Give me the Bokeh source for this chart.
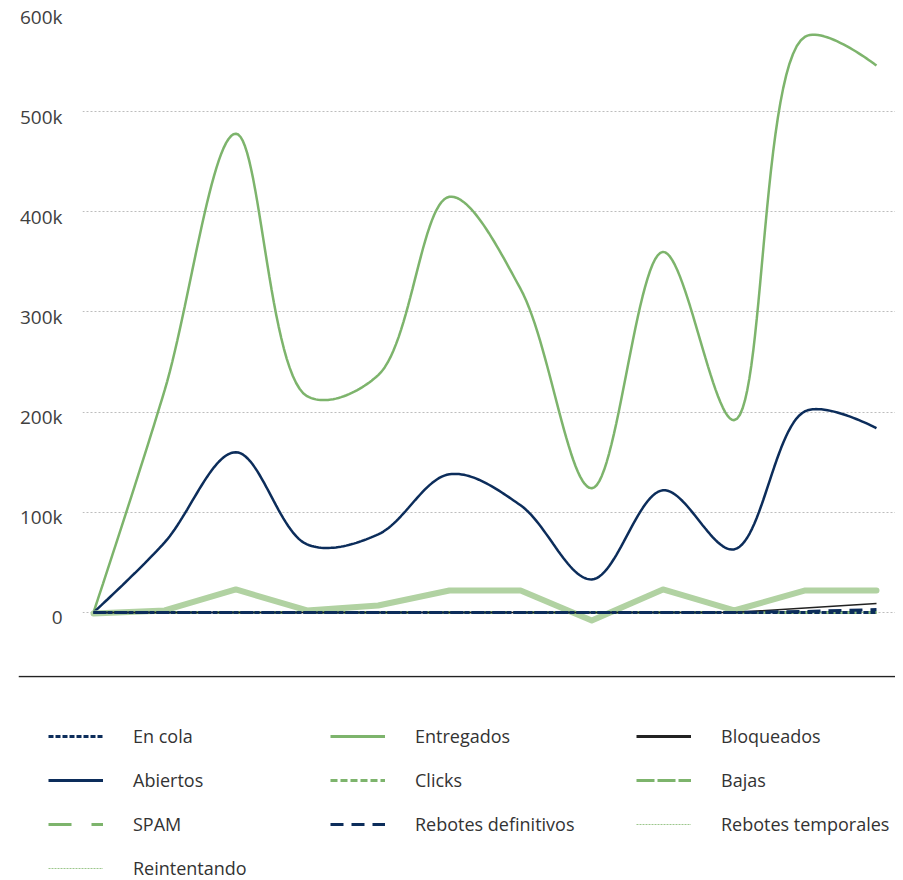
import numpy as np
from bokeh.plotting import figure
from bokeh.models import Range1d, Legend, LegendItem, FixedTicker, Span
from bokeh.embed import file_html
from bokeh.resources import INLINE

# ---------------- data ----------------
idx = list(range(12))
entregados = [0, 222000, 478000, 216000, 237000, 415000, 323000, 124000, 360000, 192000, 575000, 546000]
abiertos = [0, 70000, 160000, 68000, 78000, 138000, 107000, 33000, 122000, 63000, 201000, 184000]
bajas = [-1000, 2000, 23000, 2000, 7000, 22000, 22000, -8000, 23000, 2000, 22000, 22000]
bloqueados = [0, 0, 0, 0, 0, 0, 0, 0, 0, 0, 4500, 9000]
rebotes_def = [0, 0, 0, 0, 0, 0, 0, 0, 0, 0, 1000, 3000]
en_cola = [0] * 12
clicks = [0] * 12
spam = [0] * 12
rebotes_temp = [0] * 12
reintentando = [0] * 12

y_ticks = [0, 100000, 200000, 300000, 400000, 500000, 600000]
y_labels = ["0", "100k", "200k", "300k", "400k", "500k", "600k"]

GREEN = "#7db46c"
LIGHT_GREEN = "#b1d2a2"
THIN_GREEN = "#9cc78c"
NAVY = "#0c2d5b"
BLACK = "#222222"
FONT = "Open Sans"

# ---------------- chart ----------------
W = 895
H1 = 675
LEFT, TOP = 82, 11
X0, X1 = -0.1545, 11.267
Y0, Y1 = -62900, 600000

p = figure(width=W, height=H1, x_range=Range1d(X0, X1), y_range=Range1d(Y0, Y1),
           output_backend="svg", toolbar_location=None, x_axis_location=None,
           min_border_left=LEFT, min_border_right=0, min_border_top=TOP, min_border_bottom=0)
p.outline_line_color = None
p.xgrid.visible = False

# pixel scales of the frame
sx = (W - LEFT) / (X1 - X0)
sy = (H1 - TOP) / (Y1 - Y0)

p.ygrid.ticker = FixedTicker(ticks=y_ticks)
p.ygrid.grid_line_color = "#bdbdbd"
p.ygrid.grid_line_dash = "2 2"
p.ygrid.grid_line_width = 1

# the reference sets its tick labels about 5px below their grid lines
label_drop = int(round(5 / sy))
label_pos = [t - label_drop for t in y_ticks]
ax = p.yaxis[0]
ax.ticker = FixedTicker(ticks=label_pos)
ax.major_label_overrides = {pos: l for pos, l in zip(label_pos, y_labels)}
ax.axis_line_color = None
ax.major_tick_line_color = None
ax.minor_tick_line_color = None
ax.major_label_standoff = 14
ax.major_label_text_font = FONT
ax.major_label_text_font_size = "19px"
ax.major_label_text_color = "#404040"


def smooth(xs, ys, alpha=0.5, n=30):
    """centripetal Catmull-Rom in screen space, like d3.curveCatmullRom"""
    pts = np.column_stack([np.asarray(xs, float) * sx, np.asarray(ys, float) * sy])
    N = len(pts)
    out = [pts[0]]
    eps = 1e-12
    for i in range(N - 1):
        p0 = pts[i - 1] if i > 0 else pts[i]
        p1, p2 = pts[i], pts[i + 1]
        p3 = pts[i + 2] if i + 2 < N else pts[i + 1]
        l01 = np.linalg.norm(p1 - p0) ** alpha
        l12 = np.linalg.norm(p2 - p1) ** alpha
        l23 = np.linalg.norm(p3 - p2) ** alpha
        c1 = p1.copy()
        if l01 > eps:
            a = 2 * l01 ** 2 + 3 * l01 * l12 + l12 ** 2
            nn = 3 * l01 * (l01 + l12)
            c1 = (p1 * a - p0 * l12 ** 2 + p2 * l01 ** 2) / nn
        c2 = p2.copy()
        if l23 > eps:
            b = 2 * l23 ** 2 + 3 * l23 * l12 + l12 ** 2
            m = 3 * l23 * (l23 + l12)
            c2 = (p2 * b + p1 * l23 ** 2 - p3 * l12 ** 2) / m
        t = np.linspace(0, 1, n)[1:, None]
        seg = ((1 - t) ** 3) * p1 + 3 * ((1 - t) ** 2) * t * c1 + 3 * (1 - t) * t ** 2 * c2 + t ** 3 * p2
        out.extend(seg)
    out = np.array(out)
    return out[:, 0] / sx, out[:, 1] / sy


styles = {
    "Entregados": dict(line_color=GREEN, line_width=2.5),
    "Abiertos": dict(line_color=NAVY, line_width=2.5),
    "Bajas": dict(line_color=GREEN, line_width=3, line_dash="18 3"),
    "Clicks": dict(line_color=GREEN, line_width=3, line_dash="7 3"),
    "SPAM": dict(line_color=GREEN, line_width=3, line_dash="23 20"),
    "Rebotes temporales": dict(line_color=THIN_GREEN, line_width=1.2, line_dash="2 1"),
    "Reintentando": dict(line_color=THIN_GREEN, line_width=1.2, line_dash="2 1"),
    "Bloqueados": dict(line_color=BLACK, line_width=1.5),
    "En cola": dict(line_color=NAVY, line_width=3, line_dash="5 2"),
    "Rebotes definitivos": dict(line_color=NAVY, line_width=3, line_dash="13 8"),
}
legend_width = {"Entregados": 3, "Abiertos": 3, "Bloqueados": 3}
series = {
    "Entregados": entregados, "Abiertos": abiertos, "Bajas": bajas, "Clicks": clicks,
    "SPAM": spam, "Rebotes temporales": rebotes_temp, "Reintentando": reintentando,
    "Bloqueados": bloqueados, "En cola": en_cola, "Rebotes definitivos": rebotes_def,
}

ex, ey = smooth(idx, entregados)
p.line(ex, ey, **styles["Entregados"])
axx, ayy = smooth(idx, abiertos)
p.line(axx, ayy, **styles["Abiertos"])
p.line(idx, bajas, **styles["Bajas"])
p.line(idx, bajas, line_color=LIGHT_GREEN, line_width=6, line_join="round", line_cap="round")
for nm in ["Clicks", "SPAM", "Rebotes temporales", "Reintentando", "Bloqueados", "En cola", "Rebotes definitivos"]:
    p.line(idx, series[nm], **styles[nm])

# ---------------- legend panel (own root, below the chart) ----------------
H2 = 205
LEFT2 = 18
q = figure(width=W, height=H2, x_range=Range1d(100, 101), y_range=Range1d(0, H2),
           output_backend="svg", toolbar_location=None, x_axis_location=None, y_axis_location=None,
           min_border_left=LEFT2, min_border_right=0, min_border_top=0, min_border_bottom=0)
q.outline_line_color = None
q.xgrid.visible = False
q.ygrid.visible = False
q.add_layout(Span(location=H2 - 1, dimension="width", line_color=BLACK, line_width=1.3))

# legend proxies: the same series; this panel's x range keeps them out of view
proxies = {}
for nm in series:
    st = dict(styles[nm])
    if nm in legend_width:
        st["line_width"] = legend_width[nm]
    proxies[nm] = q.line(idx, series[nm], **st)

legend_cols = [
    ["En cola", "Abiertos", "SPAM", "Reintentando"],
    ["Entregados", "Clicks", "Rebotes definitivos"],
    ["Bloqueados", "Bajas", "Rebotes temporales"],
]
col_x = [48 - LEFT2, 330 - LEFT2, 636 - LEFT2]
ROW_H = 24
SPACING = 20
first_row_top = 48.5
for names, cx in zip(legend_cols, col_x):
    items = [LegendItem(label=nm, renderers=[proxies[nm]]) for nm in names]
    h = len(names) * ROW_H + (len(names) - 1) * SPACING
    leg = Legend(items=items, location=(cx, H2 - first_row_top - h), orientation="vertical",
                 glyph_width=55, glyph_height=ROW_H, label_height=ROW_H, label_standoff=30,
                 spacing=SPACING, padding=0, margin=0, border_line_color=None,
                 background_fill_alpha=0, label_text_font=FONT, label_text_font_size="18px",
                 label_text_color="#333333")
    q.add_layout(leg)

open("out.html", "w").write(file_html([p, q], INLINE))
